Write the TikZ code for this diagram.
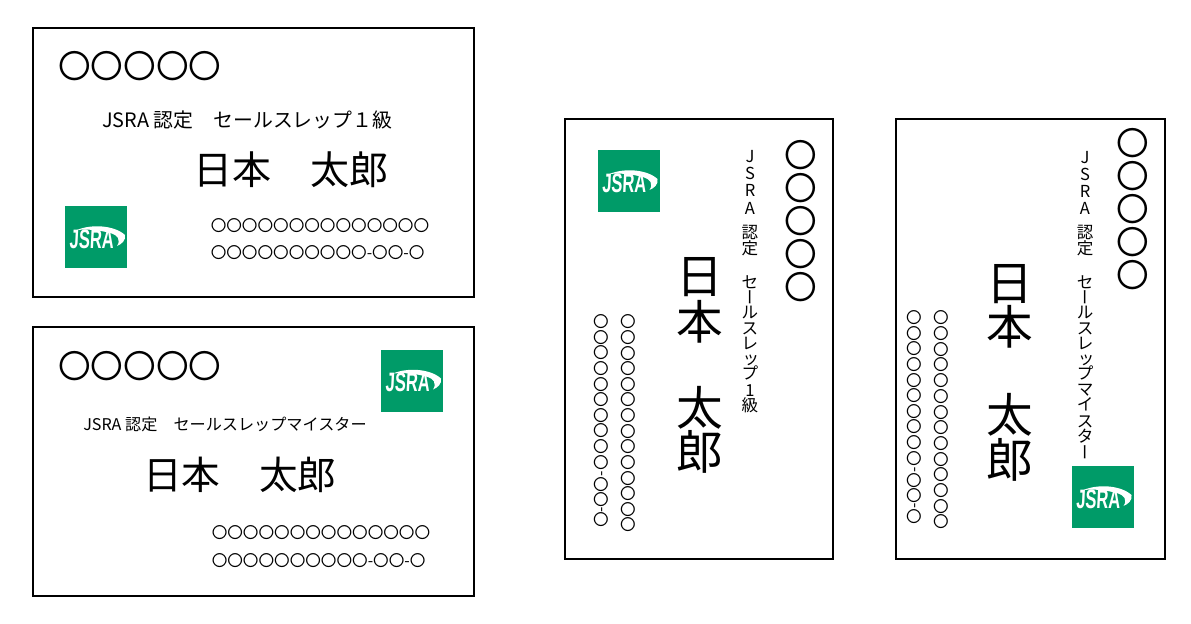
\documentclass[tikz,border=0pt]{standalone}
\usepackage{fontspec}
\setmainfont{Noto Sans CJK JP}
\newfontfamily\logofont{Liberation Sans}[BoldFont={Liberation Sans Bold}]
\usepackage{tikz}
\definecolor{jsragreen}{RGB}{0,155,104}
\tikzset{
  card/.style={line width=1.5pt,draw=black},
  bigmaru/.style={inner sep=0pt,font=\fontsize{24.5pt}{26pt}\selectfont,text height=21.3pt,text depth=3.2pt},
  smallmaru/.style={inner sep=0pt,font=\fontsize{11.7pt}{13pt}\selectfont,text height=10.2pt,text depth=1.5pt},
  kana/.style={inner sep=0pt,font=\fontsize{12.4pt}{14pt}\selectfont,text height=10.8pt,text depth=1.6pt},
  kanji/.style={inner sep=0pt,font=\fontsize{35pt}{37pt}\selectfont,text height=30.4pt,text depth=4.6pt},
  jsralogo/.pic={
    \fill [jsragreen] (-31,-31) rectangle (31,31);
    \fill [white] (-19,7) .. controls (-5,13) and (18,12) .. (29,2) .. controls (30,-3) and (26,-7) .. (21,-9) .. controls (25,-3) and (22,2) .. (14,4) .. controls (3,7) and (-8,8) .. (-19,7) -- cycle;
    \node (-word) [inner sep=0pt,text=white,font=\logofont\bfseries\fontsize{20pt}{20pt}\selectfont,xscale=0.62,xslant=0.08] at (-4,-2) {JSRA};
  }
}
\begin{document}
\begin{tikzpicture}[x=0.75pt,y=0.75pt,yscale=-1,xscale=1]
\useasboundingbox (0,0) rectangle (1191,624);

%Shape: Card frames
\draw [card] (33,28) -- (474,28) -- (474,297) -- (33,297) -- cycle ;
\draw [card] (33,327) -- (474,327) -- (474,596) -- (33,596) -- cycle ;
\draw [card] (565,119) -- (833,119) -- (833,559) -- (565,559) -- cycle ;
\draw [card] (896,119) -- (1165,119) -- (1165,559) -- (896,559) -- cycle ;

%Shape: Logos
\pic (logoa) at (96,237) {jsralogo};
\pic (logob) at (412,380.5) {jsralogo};
\pic (logoc) at (628.5,181) {jsralogo};
\pic (logod) at (1102.5,497) {jsralogo};

% Text Node: card a
\draw (58,66) node (namea) [anchor=west][bigmaru] {〇〇〇〇〇};
\draw (102,120) node (titlea) [anchor=west][inner sep=0pt][font=\fontsize{14.9pt}{16pt}\selectfont] {JSRA 認定　セールスレップ１級};
\draw (193,170) node (kanjia) [anchor=west][inner sep=0pt][font=\fontsize{29.3pt}{31pt}\selectfont] {日本　太郎};
\draw (210.5,226) node (addra) [anchor=west][smallmaru] {〇〇〇〇〇〇〇〇〇〇〇〇〇〇};
\draw (210.5,253) node (tela) [anchor=west][smallmaru] {〇〇〇〇〇〇〇〇〇〇-〇〇-〇};

% Text Node: card b
\draw (58,366) node (nameb) [anchor=west][bigmaru] {〇〇〇〇〇};
\draw (83,424) node (titleb) [anchor=west][inner sep=0pt][font=\fontsize{12.1pt}{14pt}\selectfont] {JSRA 認定　セールスレップマイスター};
\draw (143,475) node (kanjib) [anchor=west][inner sep=0pt][font=\fontsize{29pt}{31pt}\selectfont] {日本　太郎};
\draw (211.5,533) node (addrb) [anchor=west][smallmaru] {〇〇〇〇〇〇〇〇〇〇〇〇〇〇};
\draw (211.5,561) node (telb) [anchor=west][smallmaru] {〇〇〇〇〇〇〇〇〇〇-〇〇-〇};

% Text Node: card c
\foreach \n in {0,...,4}
  \draw (801,155+33*\n) node (namec\n) [bigmaru] {〇};
\foreach \ch/\ty [count=\n] in {J/156,S/173,R/190,A/208,認/232,定/248,セ/282,ル/312,ス/328,レ/343,プ/373,1/390,級/405}
  \draw (750,\ty) node (titlec\n) [kana] {\ch};
\draw (750,297) node (titlecbar) [kana,rotate=90] {ー};
\draw (751,358) node (titlecsmall) [kana] {ッ};
\foreach \ch/\ty in {日/276,本/322,太/408,郎/452}
  \draw (700,\ty) node (kanjic\ch) [kanji] {\ch};
\foreach \n in {0,...,13}
  \draw (628,322+15.62*\n) node (addrc\n) [smallmaru] {〇};
\foreach \ty [count=\n] in {322,337.5,353,369,384.5,400,415.5,431,447,463,485,500,520}
  \draw (601,\ty) node (telc\n) [smallmaru] {〇};
\draw (601,474) node (telcbara) [smallmaru,rotate=90] {-};
\draw (601,510) node (telcbarb) [smallmaru,rotate=90] {-};

% Text Node: card d
\foreach \n in {0,...,4}
  \draw (1133,143+33*\n) node (named\n) [bigmaru] {〇};
\foreach \ch/\ty [count=\n] in {J/157,S/174,R/191,A/208,認/232,定/248,セ/282,ル/312,ス/328,レ/343,プ/373,マ/389,イ/404,ス/421,タ/436}
  \draw (1085,\ty) node (titled\n) [kana] {\ch};
\draw (1085,297) node (titledbar) [kana,rotate=90] {ー};
\draw (1086,358) node (titledsmall) [kana] {ッ};
\draw (1085,452) node (titledbarb) [kana,rotate=90] {ー};
\foreach \ch/\ty in {日/283,本/327,太/415,郎/460}
  \draw (1010,\ty) node (kanjid\ch) [kanji] {\ch};
\foreach \n in {0,...,13}
  \draw (941,318+15.7*\n) node (addrd\n) [smallmaru] {〇};
\foreach \ty [count=\n] in {318,333.5,349,365,380.5,396,411.5,427,443,459,481,496,517}
  \draw (914,\ty) node (teld\n) [smallmaru] {〇};
\draw (914,470) node (teldbara) [smallmaru,rotate=90] {-};
\draw (914,506) node (teldbarb) [smallmaru,rotate=90] {-};

\end{tikzpicture}
\end{document}
